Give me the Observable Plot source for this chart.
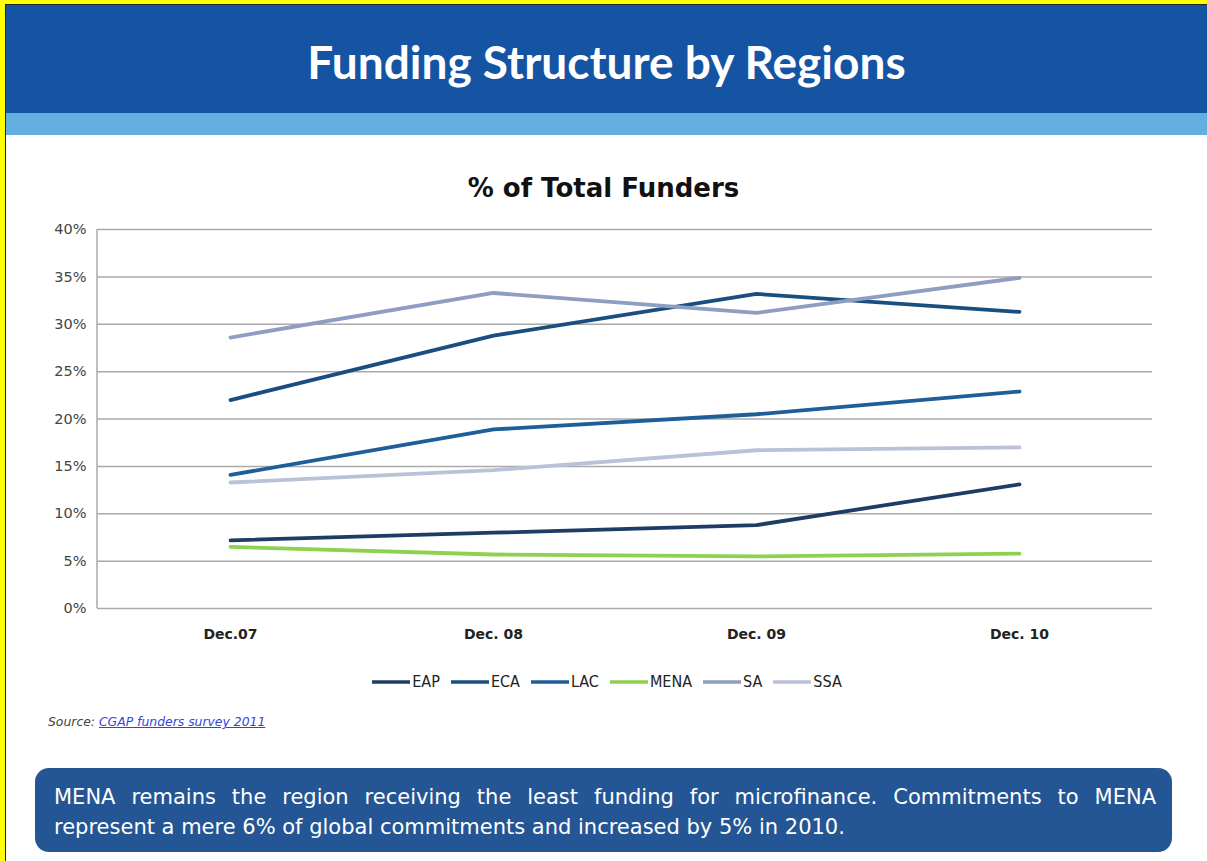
<!DOCTYPE html>
<html>
<head>
<meta charset="utf-8">
<script src="https://cdn.jsdelivr.net/npm/d3@7"></script>
<script src="https://cdn.jsdelivr.net/npm/@observablehq/plot@0.6"></script>
<style>
  html, body { margin: 0; padding: 0; background: #fff; }
  #page { position: relative; width: 1207px; height: 861px; overflow: hidden; background: #fff; }
  #yl { position: absolute; left: 0; top: 0; width: 5px; height: 861px; background: #ffff00; }
  #yt { position: absolute; left: 0; top: 0; width: 1207px; height: 4px; background: #ffff00; }
  #bl { position: absolute; left: 5px; top: 4px; width: 1px; height: 857px; background: #222; }
  #bt { position: absolute; left: 5px; top: 4px; width: 1202px; height: 1px; background: #222; }
  #band { position: absolute; left: 6px; top: 5px; width: 1201px; height: 108px; background: #1553a3; }
  #band2 { position: absolute; left: 6px; top: 113px; width: 1201px; height: 22px; background: #62aedf; }
  #title { position: absolute; left: 6px; top: 5px; width: 1201px; height: 108px; line-height: 114px; text-align: center; color: #fff; font-family: Lato, "Open Sans", sans-serif; font-weight: 700; font-size: 46px; }
  #subtitle { position: absolute; left: 0; width: 1207px; top: 173px; text-align: center; font-family: "DejaVu Sans", Verdana, sans-serif; font-weight: 700; font-size: 26px; color: #111; }
  #chart { position: absolute; left: 0; top: 210px; }
  #legend { position: absolute; left: 0; width: 1213px; top: 672px; display: flex; justify-content: center; font-family: "DejaVu Sans Condensed", "DejaVu Sans", sans-serif; font-size: 16px; color: #222; }
  .item { display: flex; align-items: center; margin: 0 5px; }
  .item svg { margin-right: 1px; }
  #source { position: absolute; left: 48px; top: 714px; font-family: "DejaVu Sans", sans-serif; font-style: italic; font-size: 12.4px; color: #444; }
  #source a { color: #3344dd; text-decoration: underline; }
  #box { position: absolute; left: 35px; top: 768px; width: 1137px; height: 84px; background: #245594; border-radius: 14px; box-sizing: border-box; padding: 14px 16px 0 19px; }
  #boxtext { color: #fff; font-family: "DejaVu Sans", sans-serif; font-size: 21px; line-height: 30px; }
  #boxtext .l1 { display: block; white-space: nowrap; text-align: justify; text-align-last: justify; }
  #boxtext .l2 { display: block; text-align: left; }
</style>
</head>
<body>
<div id="page">
  <div id="band"></div>
  <div id="band2"></div>
  <div id="yl"></div><div id="yt"></div><div id="bl"></div><div id="bt"></div>
  <div id="title">Funding Structure by Regions</div>
  <div id="subtitle">% of Total Funders</div>
  <div id="chart"></div>
  <div id="legend"></div>
  <div id="source">Source: <a href="#">CGAP funders survey 2011</a></div>
  <div id="box"><div id="boxtext"><span class="l1">MENA remains the region receiving the least funding for microfinance. Commitments to MENA</span><span class="l2">represent a mere 6% of global commitments and increased by 5% in 2010.</span></div></div>
</div>
<script>
const periods = ["Dec.07", "Dec. 08", "Dec. 09", "Dec. 10"];
const regions = ["EAP", "ECA", "LAC", "MENA", "SA", "SSA"];
const EAP  = [7.2, 8.0, 8.8, 13.1];
const ECA  = [22.0, 28.8, 33.2, 31.3];
const LAC  = [14.1, 18.9, 20.5, 22.9];
const MENA = [6.5, 5.7, 5.5, 5.8];
const SA   = [28.6, 33.3, 31.2, 34.9];
const SSA  = [13.3, 14.6, 16.7, 17.0];
const yTicks = [0, 5, 10, 15, 20, 25, 30, 35, 40];
const colors = ["#1d3c66", "#1a4e80", "#1f5e98", "#8fd14f", "#8d9ec0", "#b9c2d7"];

const series = {EAP, ECA, LAC, MENA, SA, SSA};
const rows = [];
regions.forEach(r => periods.forEach((p, i) => rows.push({region: r, period: p, value: series[r][i]})));

const H = 460, MT = 19, MB = 62;
const chart = Plot.plot({
  width: 1207,
  height: H,
  marginTop: MT,
  marginBottom: MB,
  marginLeft: 97,
  marginRight: 55,
  style: {fontFamily: "DejaVu Sans, sans-serif", fontSize: "13px", color: "#333", background: "transparent"},
  x: {type: "point", domain: periods, padding: 0.5, label: null},
  y: {domain: [0, 40], ticks: yTicks, label: null},
  color: {domain: regions, range: colors},
  marks: [
    Plot.gridY(yTicks, {stroke: "#aaa", strokeOpacity: 1, strokeWidth: 1.5}),
    Plot.axisY(yTicks, {tickSize: 0, tickPadding: 11, tickFormat: d => d + "%", fill: "#444", fontSize: 14.5}),
    Plot.axisX(periods, {tickSize: 0, tickPadding: 21, fontWeight: "bold", fill: "#222", fontSize: 14}),
    Plot.line(rows, {x: "period", y: "value", z: "region", stroke: "region", strokeWidth: 3.8, strokeLinecap: "round", strokeLinejoin: "round"})
  ]
});
document.getElementById("chart").appendChild(chart);

// vertical axis line at left edge of plot frame
const svg = d3.select(chart);
svg.append("line").attr("x1", 97).attr("x2", 97).attr("y1", MT).attr("y2", H - MB)
  .attr("stroke", "#aaa").attr("stroke-width", 1.5);

const legend = d3.select("#legend");
regions.forEach((r, i) => {
  const it = legend.append("div").attr("class", "item");
  const s = it.append("svg").attr("width", 40).attr("height", 10);
  s.append("line").attr("x1", 1).attr("x2", 39).attr("y1", 5).attr("y2", 5)
    .attr("stroke", colors[i]).attr("stroke-width", 3.5);
  it.append("span").text(r);
});
</script>
</body>
</html>
